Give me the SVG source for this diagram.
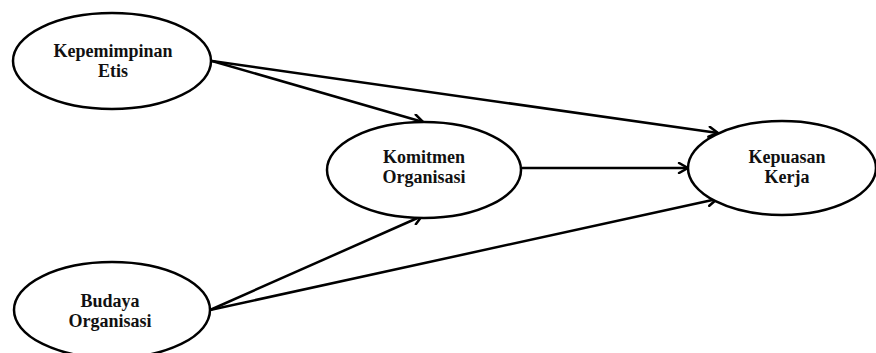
<svg xmlns="http://www.w3.org/2000/svg" width="876" height="353" viewBox="0 0 876 353">
<style>
.n{fill:#fff;stroke:#000;stroke-width:2.5}
.t{font-family:"Liberation Serif","Times New Roman",serif;font-weight:bold;font-size:18px;fill:#111;text-anchor:middle}
.c{stroke:#000;stroke-width:2.5;fill:none;marker-end:url(#a)}
</style>
<defs>
<marker id="a" markerWidth="12" markerHeight="12" refX="11" refY="6" orient="auto" markerUnits="userSpaceOnUse">
<path d="M2,1 L11,6 L2,11" fill="none" stroke="#000" stroke-width="2.5" stroke-linecap="round" stroke-linejoin="round"/>
</marker>
</defs>
<rect width="876" height="353" fill="#fff"/>
<g id="connectors">
<line class="c" x1="212" y1="61" x2="423" y2="122"/>
<line class="c" x1="212" y1="61" x2="718" y2="133"/>
<line class="c" x1="522" y1="168" x2="688" y2="168"/>
<line class="c" x1="210" y1="310" x2="422" y2="216"/>
<line class="c" x1="210" y1="310" x2="717" y2="199"/>
</g>
<g id="kepemimpinan">
<ellipse class="n" cx="112" cy="61" rx="99" ry="48"/>
<text class="t" x="113" y="57">Kepemimpinan</text>
<text class="t" x="113" y="77">Etis</text>
</g>
<g id="komitmen">
<ellipse class="n" cx="424" cy="170" rx="97" ry="48"/>
<text class="t" x="424" y="163">Komitmen</text>
<text class="t" x="424" y="183">Organisasi</text>
</g>
<g id="kepuasan">
<ellipse class="n" cx="782" cy="168" rx="94" ry="47"/>
<text class="t" x="787" y="163">Kepuasan</text>
<text class="t" x="787" y="183">Kerja</text>
</g>
<g id="budaya">
<ellipse class="n" cx="112" cy="310" rx="98" ry="48"/>
<text class="t" x="110" y="307">Budaya</text>
<text class="t" x="110" y="327">Organisasi</text>
</g>
</svg>
